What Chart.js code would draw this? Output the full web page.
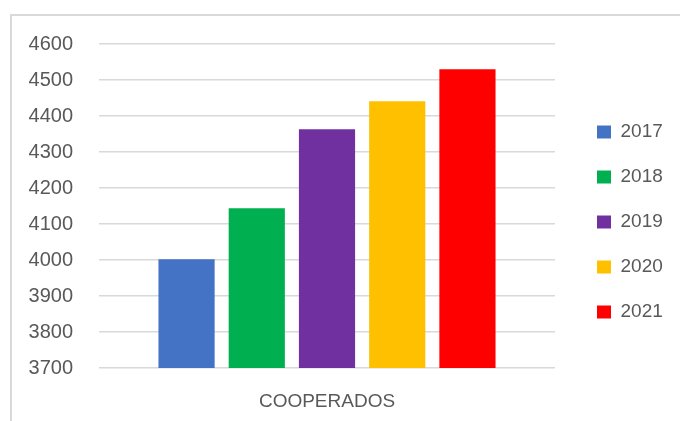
<!DOCTYPE html>
<html>
<head>
<meta charset="utf-8">
<script src="https://cdn.jsdelivr.net/npm/chart.js@4"></script>
<style>
  html, body { margin: 0; padding: 0; background: #fff; }
  #wrap { position: relative; width: 680px; height: 421px; overflow: hidden; }
  #frame {
    position: absolute; left: 10px; top: 14px; width: 700px; height: 450px;
    border: 2px solid #d9d9d9; box-sizing: border-box;
  }
  #chart { position: absolute; left: 0; top: 0; }
</style>
</head>
<body>
<div id="wrap">
  <div id="frame"></div>
  <canvas id="chart" width="680" height="421"></canvas>
</div>
<script>
const categories = ['COOPERADOS'];
const years = ['2017', '2018', '2019', '2020', '2021'];
const values = [4002, 4144, 4363, 4441, 4530];
const colors = ['#4472C4', '#00B050', '#7030A0', '#FFC000', '#FF0000'];
const yMin = 3700;
const yMax = 4600;
const yStep = 100;

const textColor = '#595959';
const fontFamily = '"Liberation Sans", Arial, sans-serif';

const datasets = years.map((year, i) => ({
  label: year,
  data: [values[i]],
  backgroundColor: colors[i],
  borderWidth: 0,
  categoryPercentage: 0.77,
  barPercentage: 0.8,
}));

// empty axes used only to leave room around the plot
function spacer(position, size) {
  return {
    type: 'linear',
    position: position,
    grid: { display: false },
    border: { display: false },
    ticks: { display: false },
    afterFit: (scale) => {
      if (scale.isHorizontal()) scale.height = size;
      else scale.width = size;
    },
  };
}

new Chart(document.getElementById('chart'), {
  type: 'bar',
  data: { labels: categories, datasets: datasets },
  options: {
    responsive: false,
    animation: false,
    layout: { padding: { top: 32, bottom: 9, left: 0, right: 8 } },
    plugins: {
      tooltip: { enabled: false },
      legend: {
        position: 'right',
        maxWidth: 101,
        labels: {
          boxWidth: 14,
          boxHeight: 13,
          padding: 26,
          color: textColor,
          font: { family: fontFamily, size: 19 },
        },
      },
    },
    scales: {
      x: {
        grid: { display: false, drawTicks: false },
        border: { display: false },
        ticks: {
          color: textColor,
          padding: 22,
          font: { family: fontFamily, size: 19 },
        },
        afterFit: (scale) => { scale.height = 44; },
      },
      y: {
        min: yMin,
        max: yMax,
        grid: { color: '#d9d9d9', lineWidth: 1.5, drawTicks: false },
        border: { display: false },
        ticks: {
          stepSize: yStep,
          color: textColor,
          padding: 26,
          font: { family: fontFamily, size: 20 },
          callback: (value) => String(value),
        },
        afterFit: (scale) => { scale.width = 99; },
      },
      topSpace: spacer('top', 12),
      rightSpace: spacer('right', 16),
    },
  },
});
</script>
</body>
</html>
